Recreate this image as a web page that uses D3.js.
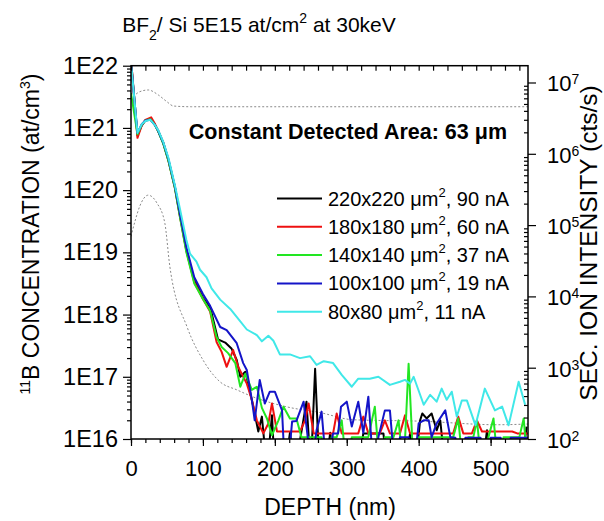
<!DOCTYPE html>
<html>
<head>
<meta charset="utf-8">
<script src="https://cdn.jsdelivr.net/npm/d3@7"></script>
<style>
  body { margin: 0; background: #fff; }
  svg { font-family: "Liberation Sans", Arial, sans-serif; }
</style>
</head>
<body>
<svg id="chart" width="604" height="521"></svg>
<script>
// ---------------------------------------------------------------
// SIMS depth profiles, values are [depth nm, log10(at/cm3)]
// values of 15.5 stand for zero counts (drawn off the bottom edge)
// ---------------------------------------------------------------
var black = [[0,22.1],[9,20.88],[15,21.04],[20,21.12],[27,21.14],[33,21.06],[38,20.94],[45,20.75],[52,20.48],[61,20.05],[68,19.6],[77,19.04],[88,18.55],[100,18.27],[110,18.12],[121,17.6],[131,17.55],[140,17.45],[147,17.27],[152,17.0],[159,17.08],[166,16.73],[170,16.52],[177,16.12],[182,16.36],[189,15.5],[196,16.38],[200,15.5],[214,15.5],[221,16.1],[228,15.5],[244,16.6],[250,15.5],[256,17.13],[262,15.5],[270,15.5],[277,16.1],[284,15.5],[316,15.5],[323,16.09],[330,16.09],[344,16.09],[351,16.09],[356,15.5],[381,15.5],[388,16.09],[395,15.5],[402,16.3],[405,16.41],[411,16.33],[418,16.41],[425,16.14],[430,16.3],[437,15.5],[488,15.5],[495,16.14],[502,15.5],[543,15.5],[550,16.2]];
var red = [[0,22.1],[9,20.84],[15,21.04],[20,21.13],[28,21.17],[33,21.07],[38,20.95],[45,20.76],[52,20.48],[61,20.04],[68,19.58],[77,19.02],[88,18.52],[100,18.25],[110,18.05],[119,17.56],[126,17.4],[133,17.16],[142,17.43],[149,17.16],[161,16.89],[168,16.63],[175,16.3],[184,16.09],[191,16.25],[196,16.57],[203,16.12],[235,16.12],[242,16.3],[247,16.57],[254,16.09],[281,16.09],[286,16.41],[293,16.09],[316,16.09],[323,16.36],[330,16.09],[346,16.09],[353,16.3],[360,16.09],[374,16.09],[381,16.38],[388,16.09],[448,16.09],[455,16.36],[462,16.09],[474,16.09],[481,16.3],[488,16.12],[530,16.12],[537,16.09],[552,16.09]];
var green = [[0,21.56],[9,20.9],[15,21.05],[20,21.12],[27,21.14],[33,21.05],[38,20.94],[45,20.74],[52,20.47],[61,20.03],[68,19.57],[77,19.0],[88,18.5],[100,18.25],[110,18.06],[119,17.64],[126,17.48],[135,17.38],[145,17.22],[152,16.84],[159,17.05],[168,16.79],[175,16.84],[182,16.5],[189,16.33],[196,16.06],[205,16.3],[212,16.52],[221,16.33],[230,16.33],[237,16.03],[265,16.03],[272,15.5],[279,16.03],[286,16.03],[293,16.3],[300,15.5],[307,16.03],[330,16.03],[339,16.52],[346,15.5],[353,16.03],[365,16.03],[372,16.3],[379,15.5],[386,17.21],[393,15.5],[400,16.03],[448,16.03],[455,16.33],[462,15.5],[469,16.03],[476,16.03],[481,16.3],[488,15.5],[497,16.03],[504,16.33],[511,15.5],[518,16.03],[540,16.03],[546,16.33],[552,15.5]];
var blue = [[0,22.05],[9,20.92],[15,21.06],[20,21.12],[27,21.13],[33,21.05],[38,20.95],[45,20.76],[52,20.5],[61,20.06],[68,19.62],[77,19.08],[88,18.6],[100,18.33],[110,18.14],[124,17.8],[133,17.75],[147,17.54],[156,17.22],[161,17.11],[168,16.63],[172,16.3],[179,16.95],[186,16.57],[193,16.76],[200,16.76],[210,16.46],[214,15.5],[218,15.5],[224,16.28],[230,16.29],[240,16.6],[251,15.5],[258,16.14],[265,16.44],[272,15.5],[281,16.09],[288,16.09],[292,16.52],[300,16.6],[307,16.2],[316,16.6],[323,16.1],[330,16.68],[337,15.5],[344,16.03],[353,16.46],[360,16.46],[367,15.5],[374,16.03],[386,16.03],[393,15.5],[400,16.25],[407,16.3],[414,16.3],[418,16.03],[425,16.25],[437,16.46],[444,16.03],[451,16.02],[458,15.5],[465,16.02],[486,16.02],[493,15.5],[500,16.02],[514,16.02],[521,15.5],[528,16.02],[552,16.02]];
var cyan = [[0,22.05],[9,20.92],[15,21.06],[20,21.11],[27,21.13],[33,21.05],[38,20.96],[45,20.77],[52,20.52],[61,20.08],[68,19.7],[77,19.2],[82,18.98],[91,18.85],[96,18.72],[105,18.6],[112,18.42],[124,18.24],[138,18.09],[150,17.92],[161,17.76],[175,17.67],[182,17.57],[191,17.66],[198,17.58],[207,17.36],[221,17.36],[235,17.3],[249,17.33],[258,17.19],[268,17.25],[281,17.22],[293,17.03],[307,16.84],[316,16.97],[332,16.97],[344,17.0],[360,16.87],[374,16.92],[381,16.95],[388,16.89],[393,17.0],[407,16.55],[416,16.71],[425,16.6],[432,16.81],[439,16.63],[446,16.76],[453,16.36],[460,16.62],[467,16.62],[479,16.22],[492,16.81],[506,16.46],[516,16.52],[525,16.22],[539,16.92],[548,16.55]];

// secondary ion intensities (right axis), [depth nm, log10(cts/s)]
var matrixSignal = [[3,6.8],[12,6.87],[24,6.895],[38,6.825],[50,6.73],[59,6.67],[84,6.66],[200,6.66],[350,6.66],[552,6.66]];
var boronSignal = [[0,4.84],[6,5.07],[12,5.26],[24,5.42],[36,5.31],[47,5.03],[54,4.42],[78,3.57],[100,3.11],[124,2.8],[147,2.69],[170,2.59],[217,2.45],[263,2.37],[309,2.27],[402,2.25],[509,2.2],[552,2.21]];

var seriesData = [black, red, green, blue, cyan];
var colors = ["#000000", "#ee1010", "#22e622", "#1414c8", "#40e8e8"];
var sizes = ["220x220", "180x180", "140x140", "100x100", "80x80"];
var currents = ["90 nA", "60 nA", "37 nA", "19 nA", "11 nA"];

var W = 604, H = 521;
var margin = {top: 65.7, right: 76, bottom: 82, left: 131};
var svg = d3.select("#chart");

var x = d3.scaleLinear().domain([0, 552]).range([margin.left, W - margin.right]);
var yL = d3.scaleLog().domain([1e16, 1e22]).range([H - margin.bottom, margin.top]);
var yR = d3.scaleLog().domain([1e2, 1.72e7]).range([H - margin.bottom, margin.top]);

svg.append("defs").append("clipPath").attr("id", "plotclip")
  .append("rect")
  .attr("x", margin.left).attr("y", margin.top)
  .attr("width", W - margin.left - margin.right)
  .attr("height", H - margin.top - margin.bottom);

var plot = svg.append("g").attr("clip-path", "url(#plotclip)");

// gray dotted reference signals
var lineR = d3.line().x(function(d) { return x(d[0]); })
  .y(function(d) { return yR(Math.pow(10, d[1])); })
  .curve(d3.curveMonotoneX);
[matrixSignal, boronSignal].forEach(function(s) {
  plot.append("path").datum(s)
    .attr("d", lineR)
    .attr("fill", "none")
    .attr("stroke", "#8a8a8a")
    .attr("stroke-width", 1)
    .attr("stroke-dasharray", "2,2");
});

// profiles
var lineL = d3.line().x(function(d) { return x(d[0]); })
  .y(function(d) { return yL(Math.pow(10, d[1])); });
seriesData.forEach(function(s, i) {
  plot.append("path").datum(s)
    .attr("d", lineL)
    .attr("fill", "none")
    .attr("stroke", colors[i])
    .attr("stroke-width", 2)
    .attr("stroke-linejoin", "round");
});

// axes
function styleAxis(size) {
  return function(g) {
    g.select(".domain").remove();
    g.selectAll("line").attr("stroke", "#000").attr("stroke-width", 1.2);
    g.selectAll("text").attr("font-size", size).attr("fill", "#000")
      .attr("font-family", "'Liberation Sans', Arial, sans-serif");
  };
}
var yB = H - margin.bottom, yT = margin.top, xLft = margin.left, xRgt = W - margin.right;

var xMinor = x.ticks(28);
var xMajor = x.ticks(6);
svg.append("g").attr("transform", "translate(0," + yB + ")")
  .call(d3.axisBottom(x).tickValues(xMinor).tickSize(4).tickFormat(""))
  .call(styleAxis(21));
svg.append("g").attr("transform", "translate(0," + yB + ")")
  .call(d3.axisBottom(x).tickValues(xMajor).tickSize(7).tickPadding(14).tickFormat(d3.format("d")))
  .call(styleAxis(22));
svg.append("g").attr("transform", "translate(0," + yT + ")")
  .call(d3.axisTop(x).tickValues(xMinor).tickSize(-5).tickFormat(""))
  .call(styleAxis(21));

var isMajor = function(v) { return Math.abs(Math.log10(v) - Math.round(Math.log10(v))) < 1e-6; };
var lMinor = yL.ticks().filter(function(v) { return !isMajor(v); });
var lMajor = yL.ticks().filter(isMajor);
svg.append("g").attr("transform", "translate(" + xLft + ",0)")
  .call(d3.axisLeft(yL).tickValues(lMinor).tickSize(4).tickFormat(""))
  .call(styleAxis(21));
svg.append("g").attr("transform", "translate(" + xLft + ",0)")
  .call(d3.axisLeft(yL).tickValues(lMajor).tickSize(8).tickPadding(5)
    .tickFormat(function(v) { return "1E" + Math.round(Math.log10(v)); }))
  .call(styleAxis(23.5));

var rTicks = yR.ticks();
var rMinor = rTicks.filter(function(v) { return !isMajor(v); });
var rMajor = rTicks.filter(isMajor);
svg.append("g").attr("transform", "translate(" + xRgt + ",0)")
  .call(d3.axisRight(yR).tickValues(rMinor).tickSize(-4).tickFormat(""))
  .call(styleAxis(21));
var rAx = svg.append("g").attr("transform", "translate(" + xRgt + ",0)")
  .call(d3.axisRight(yR).tickValues(rMajor).tickSize(8).tickFormat(""))
  .call(styleAxis(21));
rAx.selectAll(".tick").each(function(v) {
  var t = d3.select(this).append("text")
    .attr("x", 19).attr("dy", "0.38em")
    .attr("font-size", 22).attr("fill", "#000").attr("text-anchor", "start");
  t.append("tspan").text("10");
  t.append("tspan").attr("dy", "-0.5em").attr("font-size", 14).text(Math.round(Math.log10(v)));
});

// frame
svg.append("rect")
  .attr("x", xLft).attr("y", yT)
  .attr("width", xRgt - xLft).attr("height", yB - yT)
  .attr("fill", "none").attr("stroke", "#000").attr("stroke-width", 1.5);

// title
var title = svg.append("text").attr("x", 259).attr("y", 32)
  .attr("text-anchor", "middle").attr("font-size", 21);
title.append("tspan").text("BF");
title.append("tspan").attr("dy", 8).attr("font-size", 14).text("2");
title.append("tspan").attr("dy", -8).text("/ Si 5E15 at/cm");
title.append("tspan").attr("dy", -9).attr("font-size", 14).text("2");
title.append("tspan").attr("dy", 9).text(" at 30keV");

// axis titles
svg.append("text").attr("x", 330).attr("y", 515)
  .attr("text-anchor", "middle").attr("font-size", 23).text("DEPTH (nm)");

var lt = svg.append("text").attr("transform", "translate(39,234) rotate(-90)")
  .attr("text-anchor", "middle").attr("font-size", 23);
lt.append("tspan").attr("dy", -9).attr("font-size", 14).text("11");
lt.append("tspan").attr("dy", 9).text("B CONCENTRATION (at/cm");
lt.append("tspan").attr("dy", -9).attr("font-size", 14).text("3");
lt.append("tspan").attr("dy", 9).text(")");

svg.append("text").attr("transform", "translate(597,243) rotate(-90)")
  .attr("text-anchor", "middle").attr("font-size", 24.5).text("SEC. ION INTENSITY (cts/s)");

// annotation
svg.append("text").attr("x", 507).attr("y", 139)
  .attr("text-anchor", "end").attr("font-size", 21.5).attr("font-weight", "bold")
  .text("Constant Detected Area: 63 \u03bcm");

// legend
var leg = svg.append("g");
sizes.forEach(function(s, i) {
  var yy = 198.5 + i * 28.3;
  leg.append("line").attr("x1", 277).attr("x2", 322).attr("y1", yy).attr("y2", yy)
    .attr("stroke", colors[i]).attr("stroke-width", 2);
  var t = leg.append("text").attr("x", 328).attr("y", yy + 7).attr("font-size", 20);
  t.append("tspan").text(s + " \u03bcm");
  t.append("tspan").attr("dy", -9).attr("font-size", 13).text("2");
  t.append("tspan").attr("dy", 9).text(", " + currents[i]);
});
</script>
</body>
</html>
